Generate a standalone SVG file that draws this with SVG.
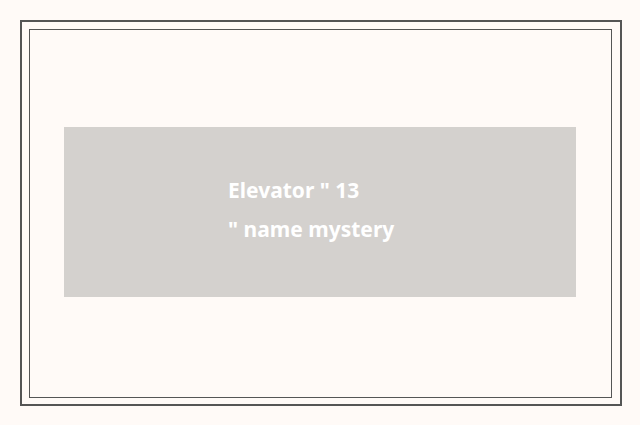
<svg xmlns="http://www.w3.org/2000/svg" width="640" height="425" viewBox="0 0 640 425">
<style>.t{font-family:"Noto Sans","Liberation Sans",sans-serif;font-weight:bold;font-size:21px;fill:#ffffff}</style>
<rect width="640" height="425" fill="#fffaf7"/>
<rect x="21" y="21" width="600" height="384" fill="none" stroke="#555" stroke-width="2"/>
<rect x="29.5" y="29.5" width="582" height="368" fill="none" stroke="#555" stroke-width="1"/>
<g id="node1">
<rect x="64" y="127" width="512" height="170" fill="#d4d1ce"/>
<text class="t" x="228" y="198">Elevator " 13</text>
<text class="t" x="228" y="237">" name mystery</text>
</g>
<g id="connectors"/>
</svg>
